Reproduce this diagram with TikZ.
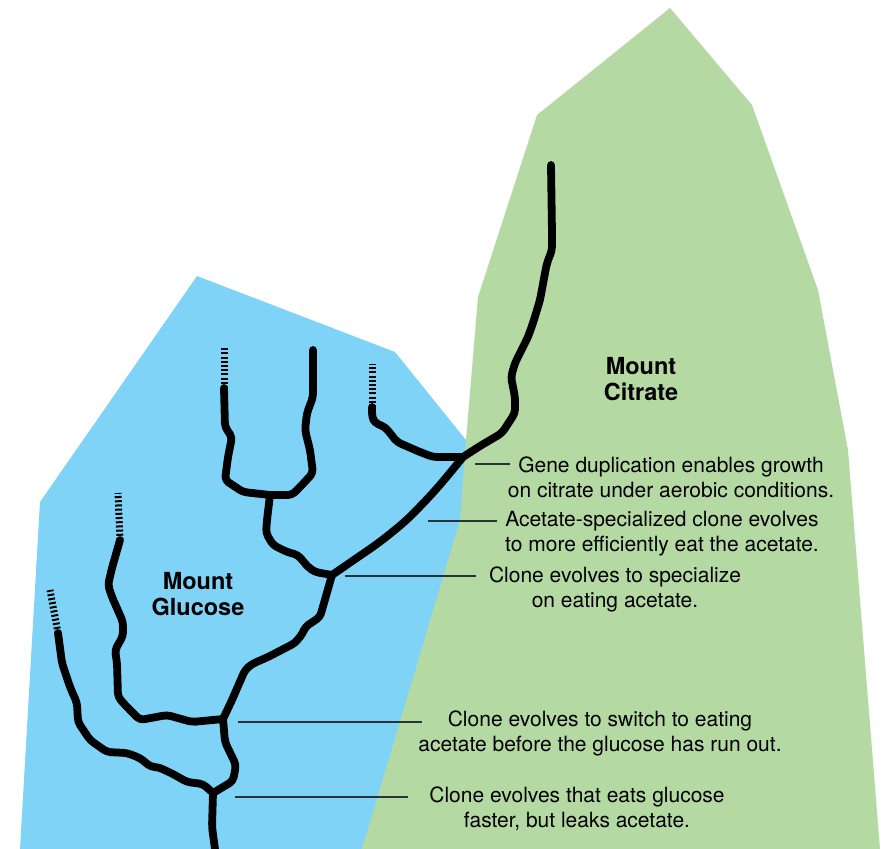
\documentclass[tikz,border=0pt]{standalone}
\usepackage{fontspec}
\setmainfont{TeX Gyre Heros}
\definecolor{glublue} {RGB}{127,211,246}
\definecolor{citgreen}{RGB}{181,217,163}
\definecolor{leadgray}{RGB}{40,50,55}
\usetikzlibrary{calc}
\tikzset{
  branch/.style={line width=7.8pt,black,line cap=round,line join=round,
                 rounded corners=4pt},
  tipdash/.style={line width=7pt,black,dash pattern=on 2pt off 2.2pt},
  leader/.style={line width=1.1pt,leadgray},
  note/.style={font=\fontsize{21}{25}\selectfont,align=center,inner sep=0pt},
  mount/.style={font=\fontsize{23.5}{26}\selectfont\bfseries,align=center,inner sep=0pt},
}
\begin{document}
\begin{tikzpicture}[x=1pt,y=-1pt]
  \useasboundingbox (0,0) rectangle (892,849);
  % the two mountains
  \fill[glublue] (40,502) -- (197,276) -- (395,352) -- (470,445)
    -- (470,849) -- (20,849) -- cycle;
  \fill[citgreen] (537,115) -- (670,8) -- (752,105) -- (818,290) -- (848,450)
    -- (880,849) -- (362,849) -- (460,520) -- (466,440) -- (478,297) -- cycle;
  \node[mount] (citrate) at (641,379) {Mount\\Citrate};
  \node[mount] (glucose) at (198,594) {Mount\\Glucose};
  % junctions of the tree
  \coordinate (j1) at (213,793);
  \coordinate (j2) at (223,719);
  \coordinate (j3) at (332,575);
  \coordinate (j4) at (270,495);
  \coordinate (j5) at (463,457);
  % tree
  \draw[branch] (215,849) -- (212,827) -- (j1);
  \draw[branch] (j1) -- (233,781) -- (236,765) -- (225,742) -- (j2);
  \draw[branch] (j1) -- (203,784) -- (187,782) -- (173,774) -- (158,767)
    -- (151,767) -- (140,758) -- (127,753) -- (107,752) -- (90,740)
    -- (78,722) -- (77,703) -- (70,687) -- (62,663) -- (58,633);
  \draw[tipdash] (58,633) -- (50,590);
  \draw[branch] (j2) -- (192,722) -- (167,715) -- (140,720) -- (127,707)
    -- (118,697) -- (117,663) -- (115,650) -- (123,636) -- (123,622)
    -- (112,597) -- (108,585) -- (112,568) -- (120,540);
  \draw[tipdash] (120,540) -- (118,493);
  \draw[branch] (j2) -- (232,700) -- (245,670) -- (252,664) -- (268,657)
    -- (295,643) -- (303,633) -- (305,627) -- (320,617) -- (j3);
  \draw[branch] (j3) -- (315,572) -- (308,567) -- (298,555) -- (287,552)
    -- (273,545) -- (266,533) -- (267,520) -- (j4);
  \draw[branch] (j4) -- (292,495) -- (300,487) -- (313,473) -- (310,450)
    -- (305,430) -- (307,413) -- (313,397) -- (313,350);
  \draw[branch] (j4) -- (243,492) -- (225,480) -- (228,457) -- (232,437)
    -- (225,427) -- (224,388);
  \draw[tipdash] (224,388) -- (224,347);
  \draw[branch,rounded corners=12pt] (j3) -- (380,542) -- (407,520)
    -- (433,493) -- (450,473) -- (j5);
  \draw[branch] (j5) -- (433,457) -- (420,452) -- (397,442) -- (390,433)
    -- (385,427) -- (375,423) -- (372,417) -- (372,407);
  \draw[tipdash] (372,407) -- (372,364);
  \draw[branch] (j5) -- (480,446) -- (502,433) -- (515,413) -- (515,397)
    -- (511,377) -- (515,363) -- (528,337) -- (533,323) -- (540,300)
    -- (545,273) -- (547,263) -- (552,250) -- (552,233) -- (551,165);
  % notes
  \node[note] (dup) at (671,477.5) {Gene duplication enables growth\\on citrate under aerobic conditions.};
  \node[note] (eff) at (662,533.5) {Acetate-specialized clone evolves\\to more efficiently eat the acetate.};
  \node[note] (spec) at (615,589) {Clone evolves to specialize\\on eating acetate.};
  \node[note] (swi) at (600,733.5) {Clone evolves to switch to eating\\acetate before the glucose has run out.};
  \node[note] (fast) at (577,808.5) {Clone evolves that eats glucose\\faster, but leaks acetate.};
  \coordinate (e1) at (510,464);
  \coordinate (e2) at (497,521);
  \coordinate (e3) at (476,576);
  \coordinate (e4) at (422,722);
  \coordinate (e5) at (408,797);
  \draw[leader] (475,464) -- (e1);
  \draw[leader] (428,521) -- (e2);
  \draw[leader] (345,576) -- (e3);
  \draw[leader] (238,722) -- (e4);
  \draw[leader] (235,797) -- (e5);
\end{tikzpicture}
\end{document}
